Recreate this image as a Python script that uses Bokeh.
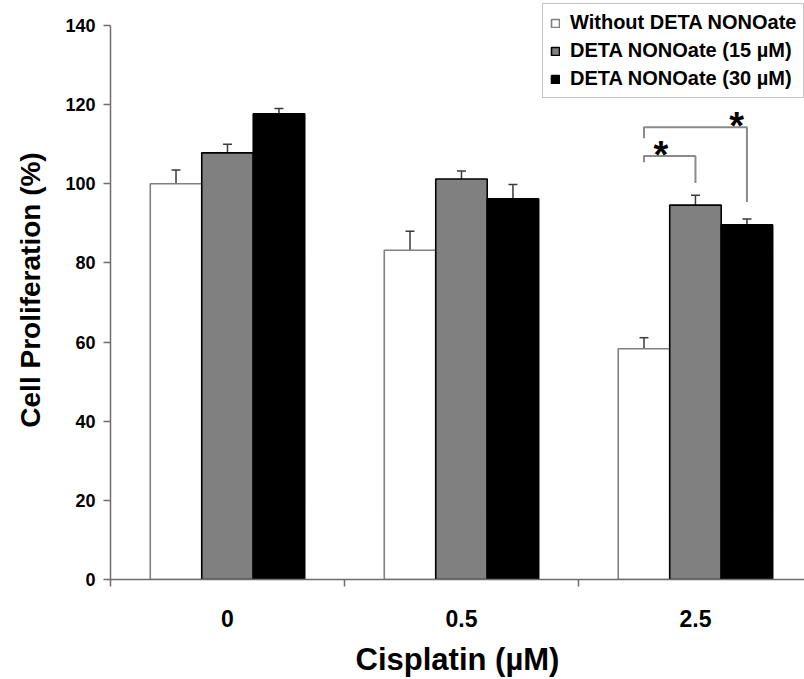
import numpy as np
from bokeh.plotting import figure
from bokeh.models import (ColumnDataSource, Range1d, FixedTicker, Legend, LegendItem,
                          Whisker, TeeHead, LinearAxis)
from bokeh.core.properties import value
from bokeh.embed import file_html
from bokeh.resources import INLINE

# ---------------- data ----------------
categories = ["0", "0.5", "2.5"]
series_names = ["Without DETA NONOate", "DETA NONOate (15 µM)", "DETA NONOate (30 µM)"]
without_deta = [100.0, 83.2, 58.3]
without_err = [3.5, 4.8, 2.8]
deta_15 = [107.8, 101.2, 94.6]
deta_15_err = [2.2, 2.0, 2.5]
deta_30 = [117.7, 96.2, 89.6]
deta_30_err = [1.3, 3.6, 1.5]
y_ticks = [0, 20, 40, 60, 80, 100, 120, 140]

# significance brackets in the "2.5" group:
# (series from, series to, bracket top, left end, right end, star position along bracket)
sig_from = [0, 0]
sig_to = [1, 2]
sig_top = [107.0, 114.3]
sig_left_end = [105.4, 111.5]
sig_right_end = [100.2, 95.4]
sig_star_pos = [0.33, 0.9]
sig_group = 2

# ---------------- style ----------------
FONT = "Liberation Sans"
fills = ["white", "#808080", "black"]
edges = ["#808080", "black", "black"]
bar_w = 0.22
offsets = [-0.22, 0.0, 0.22]
axis_col = "#6e6e6e"

p = figure(width=804, height=679, x_range=Range1d(0, 2.966), y_range=Range1d(0, 146.3),
           output_backend="svg", toolbar_location=None,
           min_border_left=110, min_border_right=0, min_border_top=0, min_border_bottom=99,
           x_axis_type=None, y_axis_type=None)
p.outline_line_color = None
p.xgrid.visible = False
p.ygrid.visible = False
p.background_fill_color = "white"
p.border_fill_color = "white"

centers = [i + 0.5 for i in range(len(categories))]
series_vals = [without_deta, deta_15, deta_30]
series_errs = [without_err, deta_15_err, deta_30_err]

renderers = []
for k in range(3):
    xs = [c + offsets[k] for c in centers]
    src = ColumnDataSource(dict(x=xs, top=series_vals[k],
                                upper=[v + e for v, e in zip(series_vals[k], series_errs[k])],
                                lower=[v - e for v, e in zip(series_vals[k], series_errs[k])]))
    r = p.vbar(x="x", top="top", bottom=0, width=bar_w, source=src,
               fill_color=fills[k], line_color=edges[k], line_width=1.6)
    renderers.append(r)
    w = Whisker(base="x", upper="upper", lower="lower", source=src,
                line_color="#3a3a3a", line_width=1.5,
                upper_head=TeeHead(size=9, line_color="#3a3a3a", line_width=1.5),
                lower_head=TeeHead(size=9, line_color="#3a3a3a", line_width=1.5))
    p.add_layout(w)

# significance brackets
bx, by, sx, sy = [], [], [], []
for f, t, top, le, re, sp in zip(sig_from, sig_to, sig_top, sig_left_end, sig_right_end, sig_star_pos):
    xl = centers[sig_group] + offsets[f]
    xr = centers[sig_group] + offsets[t]
    bx.append([xl, xl, xr, xr])
    by.append([le, top, top, re])
    sx.append(xl + sp * (xr - xl))
    sy.append(top + 0.3)
p.multi_line(xs=bx, ys=by, line_color="#8a8a8a", line_width=2)
p.text(x=sx, y=sy, text=["*"] * len(sx), text_font=value(FONT), text_font_style="bold",
       text_font_size="38px", text_align="center", text_baseline="alphabetic", text_color="black")

# y axis
yaxis = LinearAxis(ticker=FixedTicker(ticks=y_ticks), bounds=(0, 140))
yaxis.axis_line_color = axis_col
yaxis.axis_line_width = 1.5
yaxis.major_tick_line_color = axis_col
yaxis.major_tick_line_width = 1.5
yaxis.major_tick_out = 7
yaxis.major_tick_in = 0
yaxis.minor_tick_line_color = None
yaxis.major_label_text_font = FONT
yaxis.major_label_text_font_style = "bold"
yaxis.major_label_text_font_size = "18px"
yaxis.major_label_text_color = "black"
yaxis.major_label_standoff = 8
yaxis.axis_label = "Cell Proliferation (%)"
yaxis.axis_label_text_font = FONT
yaxis.axis_label_text_font_style = "bold"
yaxis.axis_label_text_font_size = "28px"
yaxis.axis_label_text_color = "black"
yaxis.axis_label_standoff = 16
p.add_layout(yaxis, "left")

# x axis: labels at category centres, ticks at category boundaries
xaxis = LinearAxis(ticker=FixedTicker(ticks=centers, minor_ticks=[float(i) for i in range(len(categories))]),
                   major_label_overrides={c: lab for c, lab in zip(centers, categories)})
xaxis.axis_line_color = axis_col
xaxis.axis_line_width = 1.5
xaxis.major_tick_line_color = None
xaxis.major_tick_out = 0
xaxis.major_tick_in = 0
xaxis.minor_tick_line_color = axis_col
xaxis.minor_tick_line_width = 1.5
xaxis.minor_tick_out = 7
xaxis.minor_tick_in = 0
xaxis.major_label_text_font = FONT
xaxis.major_label_text_font_style = "bold"
xaxis.major_label_text_font_size = "23px"
xaxis.major_label_text_color = "black"
xaxis.major_label_standoff = 23
xaxis.axis_label = "Cisplatin (µM)"
xaxis.axis_label_text_font = FONT
xaxis.axis_label_text_font_style = "bold"
xaxis.axis_label_text_font_size = "31px"
xaxis.axis_label_text_color = "black"
xaxis.axis_label_standoff = 12
p.add_layout(xaxis, "below")

legend = Legend(items=[LegendItem(label=n, renderers=[r]) for n, r in zip(series_names, renderers)],
                location=(432, 481))
legend.label_text_font = FONT
legend.label_text_font_style = "bold"
legend.label_text_font_size = "20px"
legend.label_text_color = "black"
legend.glyph_width = 10
legend.glyph_height = 10
legend.label_standoff = 10
legend.padding = 7
legend.spacing = 5
legend.margin = 0
legend.border_line_color = "#8a8a8a"
legend.border_line_width = 1.5
legend.background_fill_color = "white"
legend.background_fill_alpha = 1.0
p.add_layout(legend)

open("out.html", "w").write(file_html(p, INLINE))
